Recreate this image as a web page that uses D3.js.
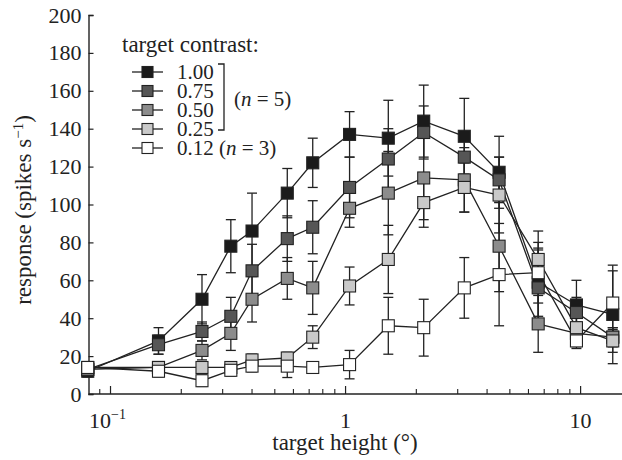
<!DOCTYPE html>
<html><head><meta charset="utf-8">
<script src="https://cdn.jsdelivr.net/npm/d3@7"></script>
<style>body{margin:0;background:#fff}svg{display:block}text{font-family:"Liberation Serif","Times New Roman",serif;fill:#222}</style>
</head><body><svg id="c" width="622" height="460"></svg>
<script>
// target heights (deg)
const heights = [0.08,0.16,0.245,0.325,0.40,0.565,0.725,1.04,1.52,2.15,3.2,4.5,6.6,9.6,13.7];
const contrasts = ["1.00","0.75","0.50","0.25","0.12"];
const resp100 = [12,28,50,78,86,106,122,137,135,144,136,117,59,47,42];
const err100  = [3,7,13,14,20,13,13,12,20,19,20,19,18,13,26];
const resp075 = [13,26,33,41,65,82,88,109,124,138,125,113,56,43,30];
const err075  = [2,5,5,10,14,12,14,16,16,14,12,12,20,8,5];
const resp050 = [13,14,23,32,50,61,56,98,106,114,113,78,37,32,30];
const err050  = [2,3,5,9,12,11,14,10,22,22,17,24,15,6,5];
const resp025 = [14,14,14,14,18,19,30,57,71,101,109,105,71,35,28];
const err025  = [2,2,3,3,3,3,6,10,18,13,13,20,15,10,6];
const resp012 = [14,12,7,12.5,14.7,14.7,14,15.5,36,35,56,63,64,28,48];
const err012  = [2,3,3,3,3,6,3,7.5,15,15,16,27,16,4,17];
const yTicks = [0,20,40,60,80,100,120,140,160,180,200];
const xMajor = [0.1,1,10];
const xMinor = [0.09,0.2,0.3,0.4,0.5,0.6,0.7,0.8,0.9,2,3,4,5,6,7,8,9];

const series = [
  {label:contrasts[0], v:resp100, e:err100, fill:"#1b1b1b"},
  {label:contrasts[1], v:resp075, e:err075, fill:"#565656"},
  {label:contrasts[2], v:resp050, e:err050, fill:"#8c8c8c"},
  {label:contrasts[3], v:resp025, e:err025, fill:"#c9c9c9"},
  {label:contrasts[4], v:resp012, e:err012, fill:"#ffffff"}
];

const svg = d3.select("#c");
const x = d3.scaleLog().domain([0.0806,15]).range([88.5,622]);
const y = d3.scaleLinear().domain([0,200]).range([394,15]);
const ink = "#222";

// axes
const yAxis = d3.axisLeft(y).tickValues(yTicks).tickSize(-5).tickPadding(7).tickFormat(d3.format("d"));
const gy = svg.append("g").attr("transform","translate(88.5,0)").call(yAxis);
gy.select(".domain").attr("stroke",ink).attr("stroke-width",1.4);
gy.selectAll(".tick line").attr("stroke",ink).attr("stroke-width",1.2);
gy.selectAll(".tick text").attr("font-size",22).attr("fill",ink).style("font-family","Liberation Serif");

const gx = svg.append("g").attr("transform","translate(0,394)");
gx.append("line").attr("x1",88.5).attr("x2",622).attr("stroke",ink).attr("stroke-width",1.4);
gx.selectAll(".mn").data(xMinor).join("line").attr("x1",d=>x(d)).attr("x2",d=>x(d)).attr("y1",0).attr("y2",-5).attr("stroke",ink).attr("stroke-width",1.1);
gx.selectAll(".mj").data(xMajor).join("line").attr("x1",d=>x(d)).attr("x2",d=>x(d)).attr("y1",0).attr("y2",-8).attr("stroke",ink).attr("stroke-width",1.2);
const xl = gx.selectAll(".lb").data(xMajor).join("text").attr("x",d=>x(d)).attr("y",34).attr("text-anchor","middle").attr("font-size",22);
xl.each(function(d){
  const t=d3.select(this);
  if(d===0.1){ t.attr("x",x(d)-3); t.append("tspan").text("10"); t.append("tspan").attr("dy",-9).attr("font-size",14).text("−1"); }
  else t.text(d3.format("d")(d));
});

// axis titles
svg.append("text").attr("x",345).attr("y",450).attr("text-anchor","middle").attr("font-size",23).text("target height (°)");
const yt = svg.append("text").attr("transform","translate(31,210) rotate(-90)").attr("text-anchor","middle").attr("font-size",23);
yt.append("tspan").text("response (spikes s");
yt.append("tspan").attr("dy",-8).attr("font-size",15).text("−1");
yt.append("tspan").attr("dy",8).text(")");

// lines and error bars
const line = d3.line().x((d,i)=>x(heights[i])).y(d=>y(d));
const gData = svg.append("g");
series.forEach(s=>{
  const g = gData.append("g");
  s.v.forEach((v,i)=>{
    const cx = x(heights[i]);
    g.append("line").attr("x1",cx).attr("x2",cx).attr("y1",y(v+s.e[i])).attr("y2",y(Math.max(0,v-s.e[i]))).attr("stroke",ink).attr("stroke-width",1.3);
    [v+s.e[i], v-s.e[i]].forEach(w=>g.append("line").attr("x1",cx-5).attr("x2",cx+5).attr("y1",y(w)).attr("y2",y(w)).attr("stroke",ink).attr("stroke-width",1.3));
  });
  g.append("path").attr("d",line(s.v)).attr("fill","none").attr("stroke",ink).attr("stroke-width",1.3);
});
series.forEach(s=>{
  gData.append("g").selectAll("rect").data(s.v).join("rect")
    .attr("x",(d,i)=>x(heights[i])-6).attr("y",d=>y(d)-6).attr("width",12).attr("height",12)
    .attr("fill",s.fill).attr("stroke",ink).attr("stroke-width",1.1);
});

// legend
const lg = svg.append("g");
lg.append("text").attr("x",122).attr("y",52).attr("font-size",23).text("target contrast:");
series.forEach((s,i)=>{
  const cy = 72 + i*19;
  lg.append("line").attr("x1",132).attr("x2",163).attr("y1",cy).attr("y2",cy).attr("stroke",ink).attr("stroke-width",1.3);
  lg.append("rect").attr("x",142).attr("y",cy-5.5).attr("width",11).attr("height",11).attr("fill",s.fill).attr("stroke",ink).attr("stroke-width",1.1);
  const t = lg.append("text").attr("x",177).attr("y",cy+7).attr("font-size",21).text(s.label);
  if(i===4){ t.append("tspan").text(" ("); t.append("tspan").attr("font-style","italic").text("n"); t.append("tspan").text(" = 3)"); }
});
lg.append("path").attr("d","M218,64H224V130H218").attr("fill","none").attr("stroke",ink).attr("stroke-width",1.3);
const n5 = lg.append("text").attr("x",234).attr("y",106).attr("font-size",21);
n5.append("tspan").text("("); n5.append("tspan").attr("font-style","italic").text("n"); n5.append("tspan").text(" = 5)");
</script></body></html>
